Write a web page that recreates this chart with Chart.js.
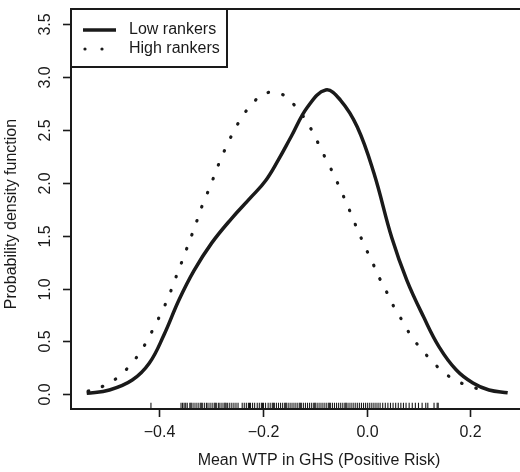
<!DOCTYPE html>
<html>
<head>
<meta charset="utf-8">
<script src="https://cdn.jsdelivr.net/npm/chart.js@4.4.1/dist/chart.umd.min.js"></script>
<style>
html,body{margin:0;padding:0;background:#fff;}
canvas{display:block;}
</style>
</head>
<body>
<canvas id="c" width="520" height="472"></canvas>
<script>
// ---- data ----
const seriesNames = ["Low rankers", "High rankers"];
const lowX = [-0.540,-0.496,-0.452,-0.419,-0.391,-0.362,-0.333,-0.299,-0.261,-0.2225,-0.195,-0.170,-0.146,-0.114,-0.079,-0.0506,-0.018,0.014,0.0487,0.0774,0.110,0.140,0.173,0.205,0.236,0.272];
const lowY = [0.009,0.041,0.135,0.296,0.561,0.892,1.17,1.43,1.66,1.867,2.02,2.22,2.434,2.718,2.879,2.784,2.529,2.093,1.478,1.081,0.731,0.447,0.23,0.107,0.041,0.015];
const highX = [-0.537,-0.507,-0.480,-0.457,-0.438,-0.422,-0.408,-0.394,-0.381,-0.370,-0.359,-0.348,-0.337,-0.326,-0.316,-0.304,-0.2925,-0.281,-0.268,-0.254,-0.238,-0.219,-0.194,-0.164,-0.140,-0.121,-0.105,-0.091,-0.077,-0.063,-0.050,-0.038,-0.0255,-0.0134,-0.0006,0.0128,0.0257,0.040,0.054,0.070,0.086,0.105,0.126,0.148,0.174,0.2026,0.233];
const highY = [0.03,0.08,0.16,0.27,0.39,0.52,0.655,0.79,0.935,1.08,1.22,1.365,1.51,1.66,1.80,1.94,2.085,2.23,2.37,2.51,2.64,2.76,2.85,2.84,2.74,2.62,2.49,2.35,2.21,2.075,1.93,1.80,1.65,1.51,1.37,1.23,1.09,0.955,0.815,0.686,0.55,0.43,0.315,0.21,0.126,0.07,0.03];
const rugX = [-0.416,
 -0.358,-0.355,-0.352,-0.349,-0.346,-0.341,-0.339,-0.337,-0.333,-0.329,-0.325,-0.321,-0.319,-0.317,-0.313,-0.309,-0.306,-0.302,-0.298,-0.294,-0.292,-0.290,-0.286,-0.283,-0.279,-0.275,-0.273,-0.271,-0.268,-0.264,-0.260,-0.256,-0.252,-0.248,
 -0.240,-0.236,-0.232,-0.228,-0.226,-0.224,-0.220,-0.216,-0.211,-0.207,-0.203,-0.201,-0.199,-0.195,-0.190,-0.186,-0.182,-0.180,-0.178,-0.174,-0.170,-0.166,-0.162,-0.158,-0.156,-0.154,-0.150,-0.146,-0.142,-0.138,-0.134,-0.130,-0.128,-0.126,-0.122,-0.118,-0.114,-0.110,-0.106,-0.102,-0.100,-0.098,-0.094,-0.090,-0.086,-0.082,-0.078,-0.074,-0.072,-0.070,-0.066,-0.062,-0.058,-0.054,-0.050,-0.046,-0.042,-0.040,-0.038,-0.034,-0.030,-0.026,-0.022,-0.018,-0.014,-0.010,-0.006,-0.002,0.002,0.006,0.010,0.014,0.018,0.022,0.026,0.031,0.036,0.041,0.046,0.051,0.056,0.061,0.066,0.071,0.076,0.082,0.088,0.094,0.100,0.107,0.114,0.118,0.130,0.136,0.138];
const xTicks = [-0.4, -0.2, 0.0, 0.2];
const yTicks = [0.0, 0.5, 1.0, 1.5, 2.0, 2.5, 3.0, 3.5];
const xTitle = "Mean WTP in GHS (Positive Risk)";
const yTitle = "Probability density function";
const rugLevel = -0.111;

// ---- chart ----
const INK = '#1a1a1a';
const FONT = '16px "Liberation Sans", Arial, sans-serif';
const toPts = (xs, ys) => xs.map((x, i) => ({x: x, y: ys[i]}));
const fmt = v => { const s = v.toFixed(1); return v < 0 ? '\u2212' + s.slice(1) : s; };

const axesPlugin = {
  id: 'rAxes',
  afterDraw(chart) {
    const ctx = chart.ctx, a = chart.chartArea;
    const xs = chart.scales.x, ys = chart.scales.y;
    ctx.save();
    ctx.strokeStyle = INK; ctx.fillStyle = INK;
    // frame
    ctx.lineWidth = 2;
    ctx.beginPath();
    ctx.moveTo(chart.width + 2, a.top); ctx.lineTo(a.left, a.top);
    ctx.lineTo(a.left, a.bottom); ctx.lineTo(chart.width + 2, a.bottom);
    ctx.stroke();
    // x ticks
    ctx.lineWidth = 1.6;
    ctx.font = FONT; ctx.textAlign = 'center'; ctx.textBaseline = 'middle';
    xTicks.forEach(v => {
      const px = Math.round(xs.getPixelForValue(v)) + 0.5;
      ctx.beginPath(); ctx.moveTo(px, a.bottom); ctx.lineTo(px, a.bottom + 8); ctx.stroke();
      ctx.fillText(fmt(v), px, a.bottom + 24);
    });
    // y ticks
    yTicks.forEach(v => {
      const py = Math.round(ys.getPixelForValue(v)) + 0.5;
      ctx.beginPath(); ctx.moveTo(a.left, py); ctx.lineTo(a.left - 8, py); ctx.stroke();
      ctx.save(); ctx.translate(a.left - 25, py); ctx.rotate(-Math.PI / 2);
      ctx.fillText(fmt(v), 0, 0); ctx.restore();
    });
    // titles
    ctx.fillText(xTitle, 319, a.bottom + 52);
    ctx.save(); ctx.translate(12, 214); ctx.rotate(-Math.PI / 2);
    ctx.fillText(yTitle, 0, 0); ctx.restore();
    // legend
    const bx = a.left, by = a.top, bw = 156, bh = 58;
    ctx.fillStyle = '#fff'; ctx.fillRect(bx, by, bw, bh);
    ctx.lineWidth = 2; ctx.strokeStyle = INK;
    ctx.strokeRect(bx, by, bw, bh);
    ctx.fillStyle = INK;
    ctx.lineWidth = 3.5; ctx.lineCap = 'butt';
    ctx.beginPath(); ctx.moveTo(bx + 12, by + 21); ctx.lineTo(bx + 45, by + 21); ctx.stroke();
    [bx + 14, bx + 31].forEach(cx => { ctx.beginPath(); ctx.arc(cx, by + 40, 1.6, 0, Math.PI * 2); ctx.fill(); });
    ctx.textAlign = 'left';
    ctx.fillText(chart.data.datasets[0].label, bx + 58, by + 21);
    ctx.fillText(chart.data.datasets[1].label, bx + 58, by + 40);
    ctx.restore();
  }
};

new Chart(document.getElementById('c'), {
  type: 'scatter',
  data: {
    datasets: [
      { label: seriesNames[0], data: toPts(lowX, lowY), showLine: true, borderColor: INK, borderWidth: 3.5,
        pointRadius: 0, tension: 0.4, fill: false },
      { label: seriesNames[1], data: toPts(highX, highY), showLine: true, borderColor: INK, borderWidth: 3.2,
        borderDash: [0.5, 14.5], borderCapStyle: 'round', pointRadius: 0, tension: 0.4, fill: false },
      { label: 'rug', data: rugX.map(x => ({x: x, y: rugLevel})), showLine: false, pointStyle: 'line',
        rotation: 90, pointRadius: 3.2, borderWidth: 1.1, borderColor: INK, pointHoverRadius: 3.2 }
    ]
  },
  options: {
    responsive: false, animation: false, devicePixelRatio: 1,
    layout: { padding: { left: 71, top: 9, right: 0, bottom: 63 } },
    plugins: { legend: { display: false }, tooltip: { enabled: false } },
    events: [],
    scales: {
      x: { type: 'linear', min: -0.5702, max: 0.2875, display: false },
      y: { type: 'linear', min: -0.139, max: 3.645, display: false }
    }
  },
  plugins: [axesPlugin]
});
</script>
</body>
</html>
